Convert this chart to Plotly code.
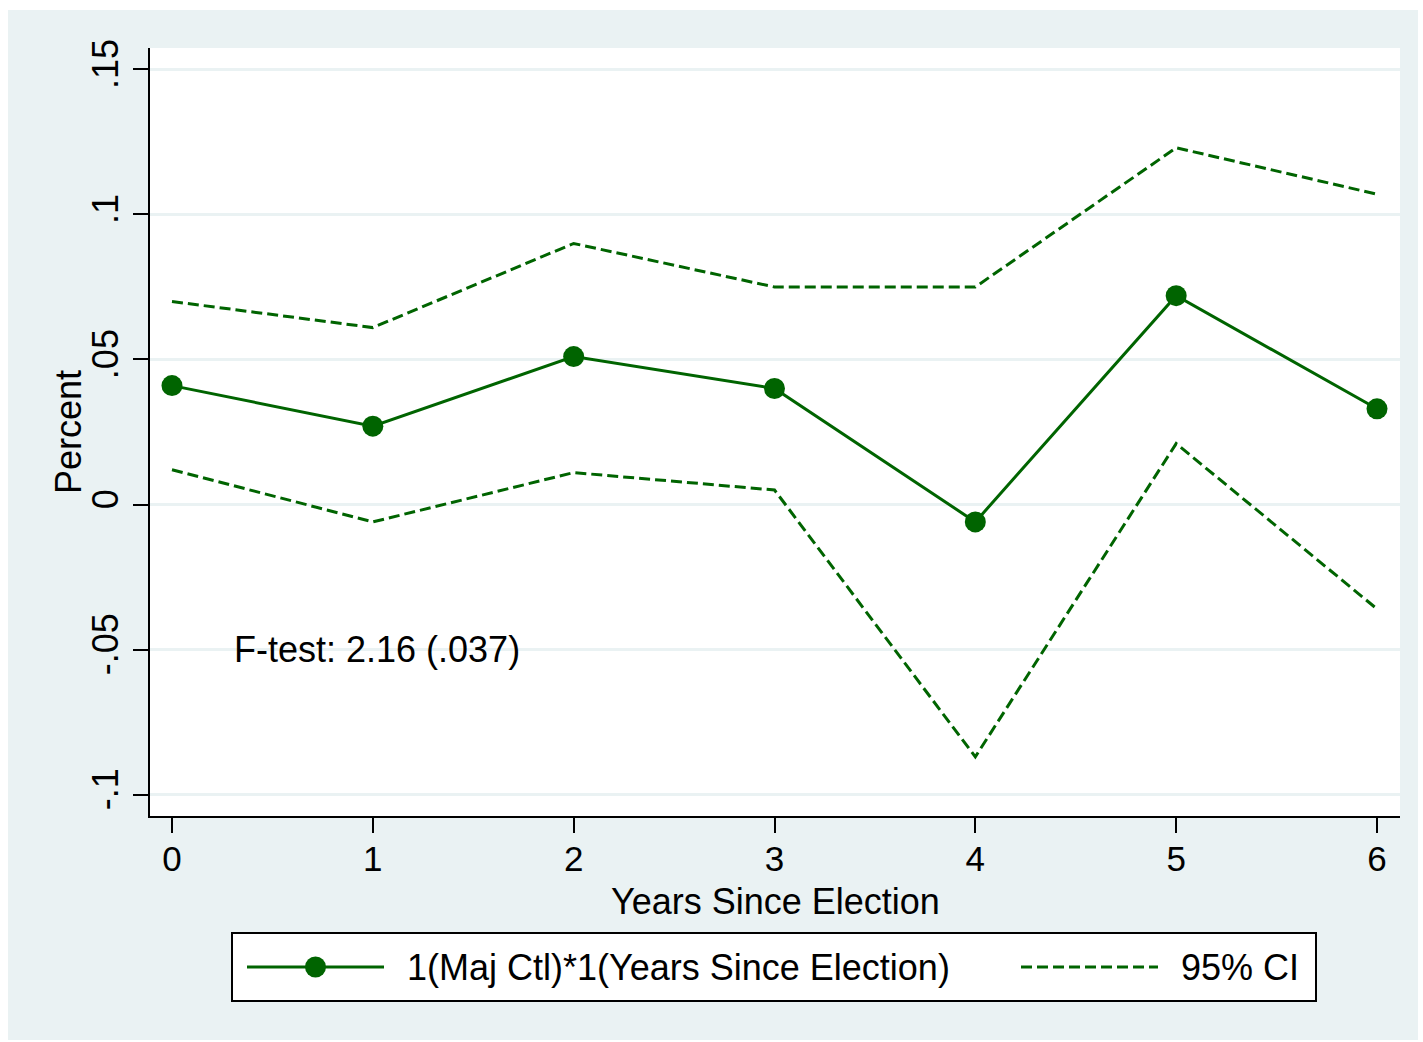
import plotly.graph_objects as go

# ---- data ----
years = [0, 1, 2, 3, 4, 5, 6]
estimate = [0.041, 0.027, 0.051, 0.040, -0.006, 0.072, 0.033]
ci_upper = [0.070, 0.061, 0.090, 0.075, 0.075, 0.123, 0.107]
ci_lower = [0.012, -0.006, 0.011, 0.005, -0.087, 0.021, -0.036]
y_tickvals = [-0.1, -0.05, 0, 0.05, 0.1, 0.15]
y_ticktext = ["-.1", "-.05", "0", ".05", ".1", ".15"]
x_tickvals = [0, 1, 2, 3, 4, 5, 6]
legend_labels = ["1(Maj Ctl)*1(Years Since Election)", "95% CI"]
x_title = "Years Since Election"
y_title = "Percent"
note_text = "F-test: 2.16 (.037)"

GREEN = "#006400"
BG = "#EAF2F3"
FONT = "Arial, Liberation Sans, sans-serif"
FS = 36

W, H = 1423, 1042
L, R, T, B = 150, 23, 48, 226
PW, PH = W - L - R, H - T - B


def xp(px):
    return (px - L) / PW


def yp(py):
    return (H - B - py) / PH


fig = go.Figure()
fig.add_trace(go.Scatter(x=years, y=ci_upper, mode="lines",
                         line=dict(color=GREEN, width=3, dash="11px,5px"),
                         showlegend=False, hoverinfo="skip"))
fig.add_trace(go.Scatter(x=years, y=ci_lower, mode="lines",
                         line=dict(color=GREEN, width=3, dash="11px,5px"),
                         showlegend=False, hoverinfo="skip"))
fig.add_trace(go.Scatter(x=years, y=estimate, mode="lines+markers",
                         line=dict(color=GREEN, width=3),
                         marker=dict(color=GREEN, size=21),
                         showlegend=False))

fig.add_annotation(x=0.297, y=-0.05, xref="x", yref="y", text=note_text,
                   showarrow=False, xanchor="left", yanchor="middle",
                   font=dict(family=FONT, size=FS, color="black"))

# axis titles
fig.add_annotation(x=xp(775), y=yp(901), xref="paper", yref="paper", text=x_title,
                   showarrow=False, xanchor="center", yanchor="middle",
                   font=dict(family=FONT, size=FS, color="black"))
fig.add_annotation(x=xp(68), y=yp(432), xref="paper", yref="paper", text=y_title,
                   showarrow=False, xanchor="center", yanchor="middle", textangle=-90,
                   font=dict(family=FONT, size=FS, color="black"))

shapes = []
# white outer border strips
for (x0, x1, y0, y1) in [(0, 8, 0, H), (1418, W, 0, H), (0, W, 0, 10), (0, W, 1040, H)]:
    shapes.append(dict(type="rect", xref="paper", yref="paper",
                       x0=xp(x0), x1=xp(x1), y0=yp(y1), y1=yp(y0),
                       fillcolor="white", line=dict(width=0), layer="below"))
# legend box
shapes.append(dict(type="rect", xref="paper", yref="paper",
                   x0=xp(232), x1=xp(1316), y0=yp(1001), y1=yp(933),
                   fillcolor="white", line=dict(color="black", width=2), layer="below"))
ly = 967
shapes.append(dict(type="line", xref="paper", yref="paper",
                   x0=xp(247), x1=xp(384), y0=yp(ly), y1=yp(ly),
                   line=dict(color=GREEN, width=3)))
shapes.append(dict(type="circle", xref="paper", yref="paper",
                   x0=xp(305), x1=xp(326), y0=yp(ly + 10.5), y1=yp(ly - 10.5),
                   fillcolor=GREEN, line=dict(color=GREEN, width=0)))
shapes.append(dict(type="line", xref="paper", yref="paper",
                   x0=xp(1021), x1=xp(1158), y0=yp(ly), y1=yp(ly),
                   line=dict(color=GREEN, width=3, dash="11px,5px")))
fig.add_annotation(x=xp(405), y=yp(ly), xref="paper", yref="paper",
                   text=legend_labels[0], showarrow=False, xanchor="left", yanchor="middle",
                   font=dict(family=FONT, size=FS, color="black"))
fig.add_annotation(x=xp(1179), y=yp(ly), xref="paper", yref="paper",
                   text=legend_labels[1], showarrow=False, xanchor="left", yanchor="middle",
                   font=dict(family=FONT, size=FS, color="black"))

fig.update_layout(
    width=W, height=H,
    margin=dict(l=L, r=R, t=T, b=B, autoexpand=False),
    paper_bgcolor=BG, plot_bgcolor="white",
    font=dict(family=FONT, size=FS, color="black"),
    shapes=shapes,
    showlegend=False,
    xaxis=dict(range=[-0.1095, 6.1145], tickvals=x_tickvals,
               ticks="outside", ticklen=15, tickwidth=2, tickcolor="black",
               ticklabelstandoff=-4,
               showline=True, linecolor="black", linewidth=2,
               showgrid=False, zeroline=False,
               tickfont=dict(size=35)),
    yaxis=dict(range=[-0.1074, 0.1574], tickvals=y_tickvals, ticktext=y_ticktext,
               tickangle=-90, ticklabelstandoff=1,
               ticks="outside", ticklen=15, tickwidth=2, tickcolor="black",
               showline=True, linecolor="black", linewidth=2,
               showgrid=True, gridcolor=BG, gridwidth=3, zeroline=False,
               tickfont=dict(size=FS)),
)

fig.write_html("out.html", config={"displayModeBar": False},
               post_script="document.body.style.margin='0';")
